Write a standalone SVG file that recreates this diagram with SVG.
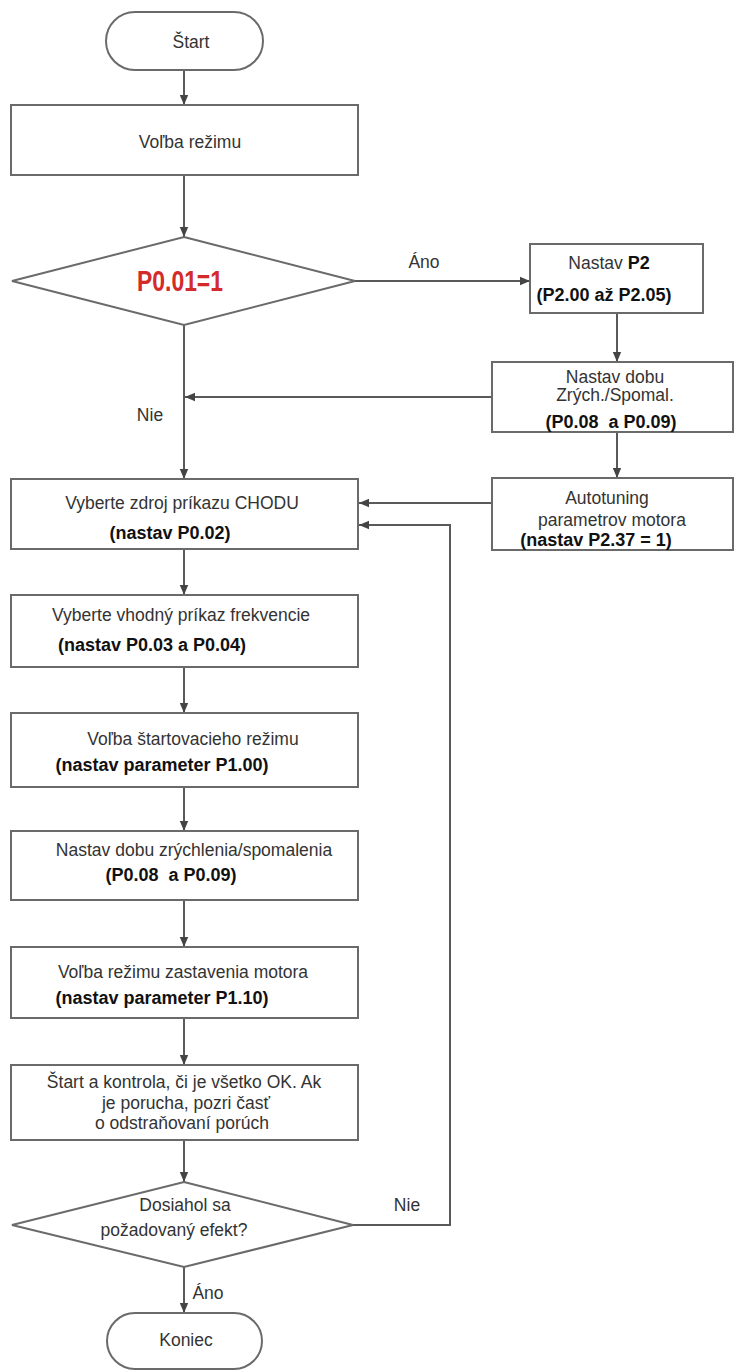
<svg xmlns="http://www.w3.org/2000/svg" width="734" height="1372" viewBox="0 0 734 1372">
<defs>
<marker id="ah" markerWidth="10" markerHeight="10" refX="10" refY="5" orient="auto" markerUnits="userSpaceOnUse">
<path d="M0,0.8 L10,5 L0,9.2 Z" fill="#444"/>
</marker>
<style>
.box{fill:#fff;stroke:#6a6a6a;stroke-width:2}
.ln{fill:none;stroke:#5a5a5a;stroke-width:2}
.t{font-family:"Liberation Sans",Arial,sans-serif;font-size:17.5px;fill:#333;text-anchor:middle}
.b{font-family:"Liberation Sans",Arial,sans-serif;font-size:18px;font-weight:bold;fill:#111;text-anchor:middle}
</style>
</defs>
<rect width="734" height="1372" fill="#fff"/>

<g id="connectors">
<line class="ln" x1="184" y1="70" x2="184" y2="105" marker-end="url(#ah)"/>
<line class="ln" x1="184" y1="175" x2="184" y2="237" marker-end="url(#ah)"/>
<line class="ln" x1="355" y1="281" x2="530" y2="281" marker-end="url(#ah)"/>
<line class="ln" x1="184" y1="325" x2="184" y2="479" marker-end="url(#ah)"/>
<line class="ln" x1="617" y1="313" x2="617" y2="362" marker-end="url(#ah)"/>
<line class="ln" x1="492" y1="397" x2="185" y2="397" marker-end="url(#ah)"/>
<line class="ln" x1="617" y1="432" x2="617" y2="478" marker-end="url(#ah)"/>
<line class="ln" x1="492" y1="503" x2="359" y2="503" marker-end="url(#ah)"/>
<polyline class="ln" points="353,1225 450,1225 450,525 359,525" marker-end="url(#ah)"/>
<line class="ln" x1="184" y1="549" x2="184" y2="595" marker-end="url(#ah)"/>
<line class="ln" x1="184" y1="667" x2="184" y2="713" marker-end="url(#ah)"/>
<line class="ln" x1="184" y1="787" x2="184" y2="831" marker-end="url(#ah)"/>
<line class="ln" x1="184" y1="900" x2="184" y2="947" marker-end="url(#ah)"/>
<line class="ln" x1="184" y1="1018" x2="184" y2="1065" marker-end="url(#ah)"/>
<line class="ln" x1="184" y1="1140" x2="184" y2="1182" marker-end="url(#ah)"/>
<line class="ln" x1="184" y1="1267" x2="184" y2="1313" marker-end="url(#ah)"/>
<text class="t" x="424" y="268">Áno</text>
<text class="t" x="150" y="421">Nie</text>
<text class="t" x="407" y="1211">Nie</text>
<text class="t" x="208" y="1299">Áno</text>
</g>

<g id="start">
<rect class="box" x="106" y="12" width="157" height="58" rx="29"/>
<text class="t" x="191" y="48">Štart</text>
</g>

<g id="mode">
<rect class="box" x="11" y="105" width="347" height="70"/>
<text class="t" x="190" y="148">Voľba režimu</text>
</g>

<g id="dec1">
<polygon class="box" points="184,237 355,281 184,325 12,281"/>
<text x="180" y="291" font-family="'Liberation Sans',Arial,sans-serif" font-size="30" font-weight="bold" fill="#d42a2a" text-anchor="middle" textLength="86" lengthAdjust="spacingAndGlyphs">P0.01=1</text>
</g>

<g id="setP2">
<rect class="box" x="530" y="244" width="173" height="69"/>
<text class="t" x="609" y="269">Nastav <tspan font-weight="bold" fill="#111" font-size="18">P2</tspan></text>
<text class="b" x="604" y="301">(P2.00 až P2.05)</text>
</g>

<g id="accel1">
<rect class="box" x="492" y="362" width="241" height="70"/>
<text class="t" x="615" y="383">Nastav dobu</text>
<text class="t" x="615" y="401">Zrých./Spomal.</text>
<text class="b" x="611" y="428" xml:space="preserve">(P0.08  a P0.09)</text>
</g>

<g id="autotune">
<rect class="box" x="492" y="478" width="241" height="72"/>
<text class="t" x="607" y="504">Autotuning</text>
<text class="t" x="612" y="526">parametrov motora</text>
<text class="b" x="596" y="546">(nastav P2.37 = 1)</text>
</g>

<g id="runsrc">
<rect class="box" x="11" y="479" width="347" height="70"/>
<text class="t" x="182" y="509">Vyberte zdroj príkazu CHODU</text>
<text class="b" x="170" y="539">(nastav P0.02)</text>
</g>

<g id="freq">
<rect class="box" x="11" y="595" width="347" height="72"/>
<text class="t" x="181" y="621">Vyberte vhodný príkaz frekvencie</text>
<text class="b" x="152" y="651">(nastav P0.03 a P0.04)</text>
</g>

<g id="startmode">
<rect class="box" x="11" y="713" width="347" height="74"/>
<text class="t" x="193" y="745">Voľba štartovacieho režimu</text>
<text class="b" x="162" y="771">(nastav parameter P1.00)</text>
</g>

<g id="accel2">
<rect class="box" x="11" y="831" width="347" height="69"/>
<text class="t" x="194" y="856">Nastav dobu zrýchlenia/spomalenia</text>
<text class="b" x="171" y="881" xml:space="preserve">(P0.08  a P0.09)</text>
</g>

<g id="stopmode">
<rect class="box" x="11" y="947" width="347" height="71"/>
<text class="t" x="183" y="978">Voľba režimu zastavenia motora</text>
<text class="b" x="162" y="1004">(nastav parameter P1.10)</text>
</g>

<g id="check">
<rect class="box" x="11" y="1065" width="347" height="75"/>
<text class="t" x="184" y="1088">Štart a kontrola, či je všetko OK. Ak</text>
<text class="t" x="186" y="1109">je porucha, pozri časť</text>
<text class="t" x="182" y="1129">o odstraňovaní porúch</text>
</g>

<g id="dec2">
<polygon class="box" points="184,1182 353,1225 184,1267 12,1225"/>
<text class="t" x="185" y="1211">Dosiahol sa</text>
<text class="t" x="174" y="1236">požadovaný efekt?</text>
</g>

<g id="end">
<rect class="box" x="107" y="1313" width="155" height="56" rx="28"/>
<text class="t" x="186" y="1346">Koniec</text>
</g>
</svg>
